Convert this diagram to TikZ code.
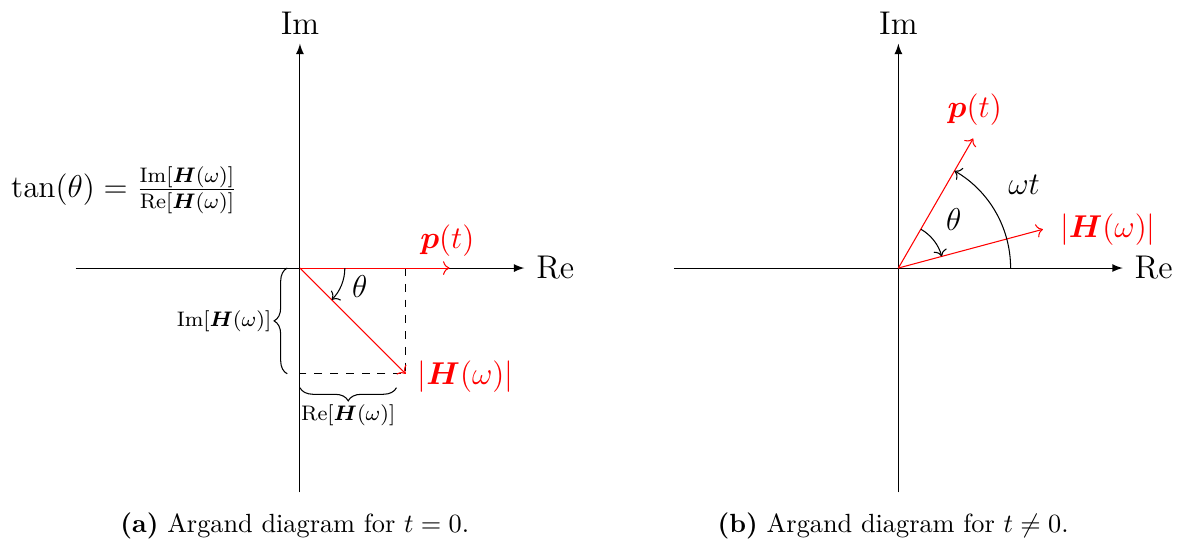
\documentclass[tikz,border=0pt]{standalone}
\usepackage{amsmath,amssymb}
\usepackage{bm}
\usepackage{tikz}
\usetikzlibrary{positioning,arrows.meta,calc,decorations.pathreplacing}

\begin{document}
\begin{tikzpicture}[
  axis/.style={-latex},
  vec/.style={red, ->},
  angarc/.style={->},
  guide/.style={dashed},
  brace/.style={decorate, decoration={brace, amplitude=5pt}},
  lbl/.style={font=\fontsize{12.5}{14}\selectfont},
  veclbl/.style={red, font=\fontsize{13}{15}\selectfont},
  bracelbl/.style={font=\fontsize{8.3}{10}\selectfont},
  caption/.style={font=\fontsize{10}{12}\selectfont}
]
  \useasboundingbox (-4.01,-3.676) rectangle (11.845,3.583);

  % (a) t = 0
  \coordinate (oa) at (0,0);
  \coordinate (ra0) at (-3,0);
  \coordinate (ra1) at (3,0);
  \coordinate (ia0) at (0,-3);
  \coordinate (ia1) at (0,3);
  \coordinate (pa) at (2,0);
  \coordinate (ha) at (-45:2);
  \coordinate (hax) at (ha |- oa);
  \coordinate (hay) at (oa |- ha);

  \draw[axis] (ra0) -- (ra1);
  \draw[axis] (ia0) -- (ia1);
  \node[lbl, right, xshift=1pt] (rea) at (ra1) {Re};
  \node[lbl, above] (ima) at (ia1) {Im};

  \draw[guide] (hax) -- (ha) -- (hay);
  \draw[vec] (oa) -- (pa);
  \draw[vec] (oa) -- (ha);
  \draw[angarc] (0.6,0) arc (0:-45:0.6);

  \node[veclbl] (pla) at (1.97,0.37) {$\bm{p}(t)$};
  \node[veclbl, right, xshift=1pt, yshift=-1pt] (hla) at (ha) {$|\bm{H}(\omega)|$};
  \node[lbl] (tha) at (0.8,-0.25) {$\theta$};

  \coordinate (bi0) at (-0.17,-1.414);
  \coordinate (bi1) at (-0.17,0);
  \coordinate (br0) at (0,-1.6);
  \coordinate (br1) at (1.29,-1.6);
  \draw[brace] (bi0) -- (bi1);
  \draw[brace] (br1) -- (br0);
  \node[bracelbl, left] (ima2) at (-0.26,-0.707) {$\mathrm{Im}[\bm{H}(\omega)]$};
  \node[bracelbl, below] (rea2) at (0.645,-1.70) {$\mathrm{Re}[\bm{H}(\omega)]$};

  \node[lbl, font=\fontsize{12}{14}\selectfont] (tan) at (-2.35,1.04)
    {$\tan(\theta) = \frac{\mathrm{Im}[\bm{H}(\omega)]}{\mathrm{Re}[\bm{H}(\omega)]}$};

  \node[caption] (capa) at (-0.07,-3.45) {\textbf{(a)} Argand diagram for $t = 0$.};

  % (b) t != 0
  \coordinate (ob) at (8,0);
  \coordinate (rb0) at ($(ob)+(-3,0)$);
  \coordinate (rb1) at ($(ob)+(3,0)$);
  \coordinate (ib0) at ($(ob)+(0,-3)$);
  \coordinate (ib1) at ($(ob)+(0,3)$);
  \coordinate (pb) at ($(ob)+(60:2)$);
  \coordinate (hb) at ($(ob)+(15:2)$);

  \draw[axis] (rb0) -- (rb1);
  \draw[axis] (ib0) -- (ib1);
  \node[lbl, right, xshift=1pt] (reb) at (rb1) {Re};
  \node[lbl, above] (imb) at (ib1) {Im};

  \draw[vec] (ob) -- (pb);
  \draw[vec] (ob) -- (hb);
  \draw[angarc] ($(ob)+(1.5,0)$) arc (0:60:1.5);
  \draw[angarc] ($(ob)+(60:0.6)$) arc (60:15:0.6);

  \node[veclbl] (plb) at ($(ob)+(1.02,2.12)$) {$\bm{p}(t)$};
  \node[veclbl, right, xshift=3pt] (hlb) at (hb) {$|\bm{H}(\omega)|$};
  \node[lbl] (wtb) at ($(ob)+(1.68,1.11)$) {$\omega t$};
  \node[lbl] (thb) at ($(ob)+(0.74,0.65)$) {$\theta$};

  \node[caption] (capb) at (7.93,-3.45) {\textbf{(b)} Argand diagram for $t \neq 0$.};
\end{tikzpicture}
\end{document}
